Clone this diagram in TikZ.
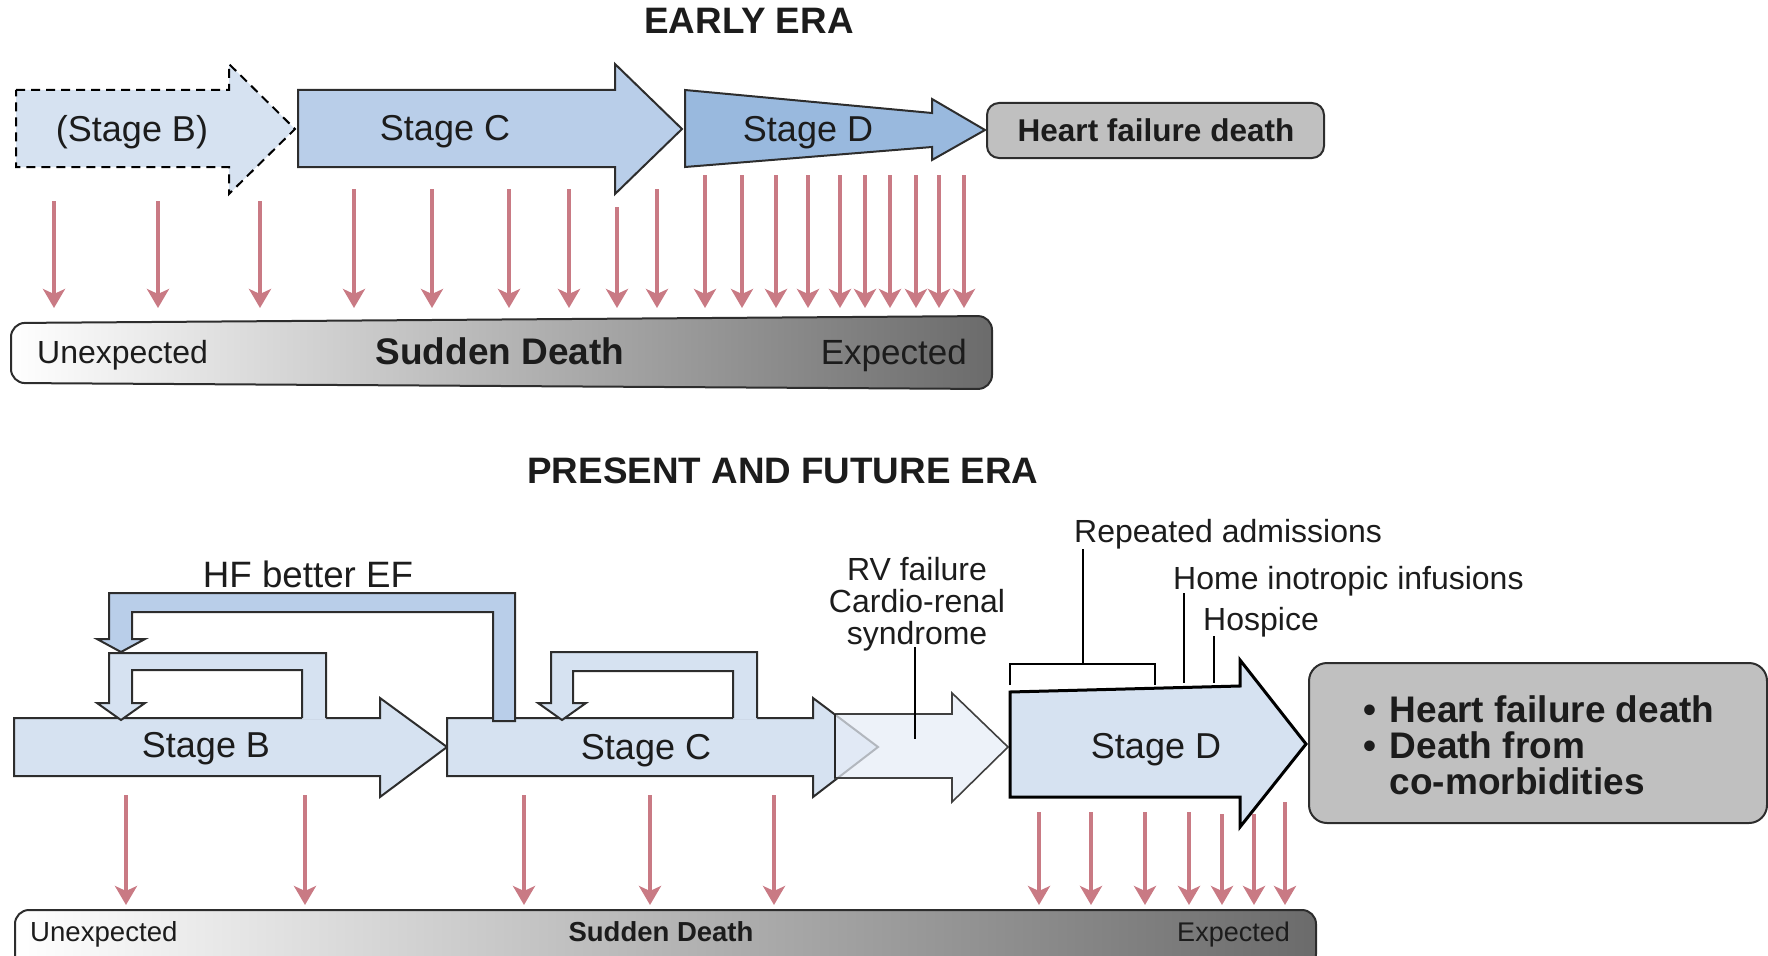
\documentclass[tikz,border=0pt]{standalone}
\usepackage{fontspec}
\setmainfont{Liberation Sans}
\usetikzlibrary{arrows.meta}

\definecolor{stageBlt}{RGB}{214,226,241}
\definecolor{stageCmid}{RGB}{185,206,233}
\definecolor{stageDdk}{RGB}{153,185,222}
\definecolor{rvfill}{RGB}{230,237,247}
\definecolor{sdred}{RGB}{201,122,132}
\definecolor{boxgray}{RGB}{192,192,192}
\definecolor{edge}{RGB}{45,45,45}
\definecolor{ink}{RGB}{28,28,28}

\newcommand\fsz[1]{\fontsize{#1}{#1}\selectfont}

\tikzset{
  outline/.style={draw=edge, line width=2pt, line join=miter},
  sdarrow/.style={draw=sdred, line width=3.5pt,
    -{Stealth[length=19pt, width=22pt, inset=5pt]}},
  txt/.style={inner sep=0pt, text=ink},
  stagelbl/.style={txt, font=\fsz{36}},
  title/.style={txt, font=\bfseries\fsz{36.8}},
  note/.style={txt, font=\fsz{32}},
  pointer/.style={draw=black, line width=2.2pt},
  sdbar/.style={draw=edge, line width=2pt, rounded corners=14pt,
    left color=white, middle color=black!22, right color=black!58},
}

\begin{document}
\begin{tikzpicture}[x=1pt, y=-1pt]
\useasboundingbox (0,0) rectangle (1768,955);

% ================= EARLY ERA =================
\node[title, anchor=base] (early) at (749,34) {EARLY ERA};

% stage arrows
\path[fill=stageBlt, draw=black, line width=2pt, dash pattern=on 9pt off 6pt]
  (16,90) -- (229,90) -- (229,64) -- (295,129) -- (229,194) -- (229,167) -- (16,167) -- cycle;
\path[outline, fill=stageCmid]
  (298,90) -- (615,90) -- (615,64) -- (682,129) -- (615,194) -- (615,167) -- (298,167) -- cycle;
\path[outline, fill=stageDdk]
  (685,90) -- (932,113) -- (932,99) -- (985,130) -- (932,160) -- (932,147) -- (685,167) -- cycle;

\node[stagelbl, anchor=base] (eB) at (132,142) {(Stage B)};
\node[stagelbl, anchor=base] (eC) at (445,140.5) {Stage C};
\node[stagelbl, anchor=base] (eD) at (808,142) {Stage D};

\path[outline, fill=boxgray, rounded corners=12pt] (987,103) rectangle (1324,158);
\node[txt, font=\bfseries\fsz{31.5}, anchor=base] (ehf) at (1156,142) {Heart failure death};

% sudden death events
\foreach \x/\y in {54/201, 158/201, 260/201, 354/189, 432/189, 509/189, 569/189,
                   617/207, 657/189, 705/175, 742/175, 776/175, 808/175, 840/175,
                   865/175, 890/175, 916/175, 939/175, 964/175}
  \draw[sdarrow] (\x,\y) -- (\x,308);

\path[sdbar] (11,323) -- (992,316) -- (992,389) -- (11,383) -- cycle;
\node[txt, font=\fsz{32}, anchor=base west] (eun) at (37,363.5) {Unexpected};
\node[txt, font=\bfseries\fsz{37}, anchor=base] (esd) at (500,364) {Sudden Death};
\node[txt, font=\fsz{35}, anchor=base east] (eex) at (967,364.5) {Expected};

% ================= PRESENT AND FUTURE ERA =================
\node[title, anchor=base] (present) at (783,483) {PRESENT AND FUTURE ERA};

% Stage B and Stage C
\path[outline, fill=stageBlt]
  (14,718) -- (380,718) -- (380,698) -- (447,747) -- (380,797) -- (380,776) -- (14,776) -- cycle;
\path[outline, fill=stageBlt]
  (447,718) -- (813,718) -- (813,698) -- (878,747) -- (813,797) -- (813,776) -- (447,776) -- cycle;

% Stage B loop
\fill[stageBlt] (326,719.5) -- (326,653) -- (109,653) -- (109,703) -- (97,703) -- (121,720)
  -- (145,703) -- (132,703) -- (132,670) -- (302,670) -- (302,719.5) -- cycle;
\draw[outline] (302,718) -- (302,670) -- (132,670) -- (132,703) -- (145,703) -- (121,720)
  -- (97,703) -- (109,703) -- (109,653) -- (326,653) -- (326,718);

% Stage C loop
\fill[stageBlt] (757,719.5) -- (757,652) -- (551,652) -- (551,703) -- (538,703) -- (562,720)
  -- (586,703) -- (573,703) -- (573,671) -- (733,671) -- (733,719.5) -- cycle;
\draw[outline] (733,718) -- (733,671) -- (573,671) -- (573,703) -- (586,703) -- (562,720)
  -- (538,703) -- (551,703) -- (551,652) -- (757,652) -- (757,718);

% HF better EF loop
\path[outline, fill=stageCmid]
  (515,721) -- (515,593) -- (109,593) -- (109,639) -- (97,639) -- (121,652) -- (145,639)
  -- (132,639) -- (132,612) -- (493,612) -- (493,721) -- cycle;
\node[txt, font=\fsz{36.7}, anchor=base] (hfbef) at (308,587) {HF better EF};

% transition arrow between C and D
\path[draw=black!75, line width=1.6pt, fill=rvfill, fill opacity=0.72]
  (835,714) -- (952,714) -- (952,693) -- (1008,747) -- (952,802) -- (952,778) -- (835,778) -- cycle;
\draw[draw=black!85, line width=2.2pt] (835,714) -- (835,778);

% Stage D
\path[draw=black, line width=3pt, fill=stageBlt]
  (1010,692) -- (1240,686) -- (1240,660) -- (1306,744) -- (1240,827) -- (1240,797) -- (1010,797) -- cycle;

\node[stagelbl, anchor=base] (pB) at (206,757.5) {Stage B};
\node[stagelbl, anchor=base] (pC) at (646,759.5) {Stage C};
\node[stagelbl, anchor=base] (pD) at (1156,758) {Stage D};

% annotations
\node[note, align=center] (rv) at (917,604) {RV failure\\Cardio-renal\\syndrome};
\coordinate (rvtop) at (915,647);
\coordinate (rvbot) at (915,739);
\draw[pointer] (rvtop) -- (rvbot);

\node[note, anchor=base west] (rep) at (1074,542.5) {Repeated admissions};
\coordinate (reptop) at (1083,549);
\coordinate (repmid) at (1083,664);
\draw[pointer] (reptop) -- (repmid);
\draw[pointer] (1010,685) -- (1010,664) -- (1155,664) -- (1155,685);

\node[note, anchor=base west] (home) at (1173,589.5) {Home inotropic infusions};
\coordinate (hometop) at (1184,593);
\coordinate (homebot) at (1184,683);
\draw[pointer] (hometop) -- (homebot);

\node[note, anchor=base west] (hosp) at (1203,630) {Hospice};
\coordinate (hosptop) at (1214,636);
\coordinate (hospbot) at (1214,683);
\draw[pointer] (hosptop) -- (hospbot);

% outcome box
\path[outline, fill=boxgray, rounded corners=18pt] (1309,663) rectangle (1767,823);
\node[txt, font=\bfseries\fsz{37}, anchor=base] (b1) at (1369.5,722) {•};
\node[txt, font=\bfseries\fsz{37}, anchor=base] (b2) at (1369.5,758) {•};
\node[txt, font=\bfseries\fsz{37}, anchor=base west] (o1) at (1389.5,722) {Heart failure death};
\node[txt, font=\bfseries\fsz{37}, anchor=base west] (o2) at (1389.5,758) {Death from};
\node[txt, font=\bfseries\fsz{37}, anchor=base west] (o3) at (1389.5,794) {co-morbidities};

% sudden death events
\foreach \x/\y in {126/795, 305/795, 524/795, 650/795, 774/795,
                   1039/812, 1091/812, 1145/812, 1189/812, 1222/814, 1254/814, 1285/802}
  \draw[sdarrow] (\x,\y) -- (\x,905);

\path[sdbar] (15,910) -- (1316,910) -- (1316,968) -- (15,968) -- cycle;
\node[txt, font=\fsz{27.6}, anchor=base west] (pun) at (30,941.5) {Unexpected};
\node[txt, font=\bfseries\fsz{27.5}, anchor=base] (psd) at (661,941.5) {Sudden Death};
\node[txt, font=\fsz{27}, anchor=base east] (pex) at (1290,941) {Expected};

\end{tikzpicture}
\end{document}
